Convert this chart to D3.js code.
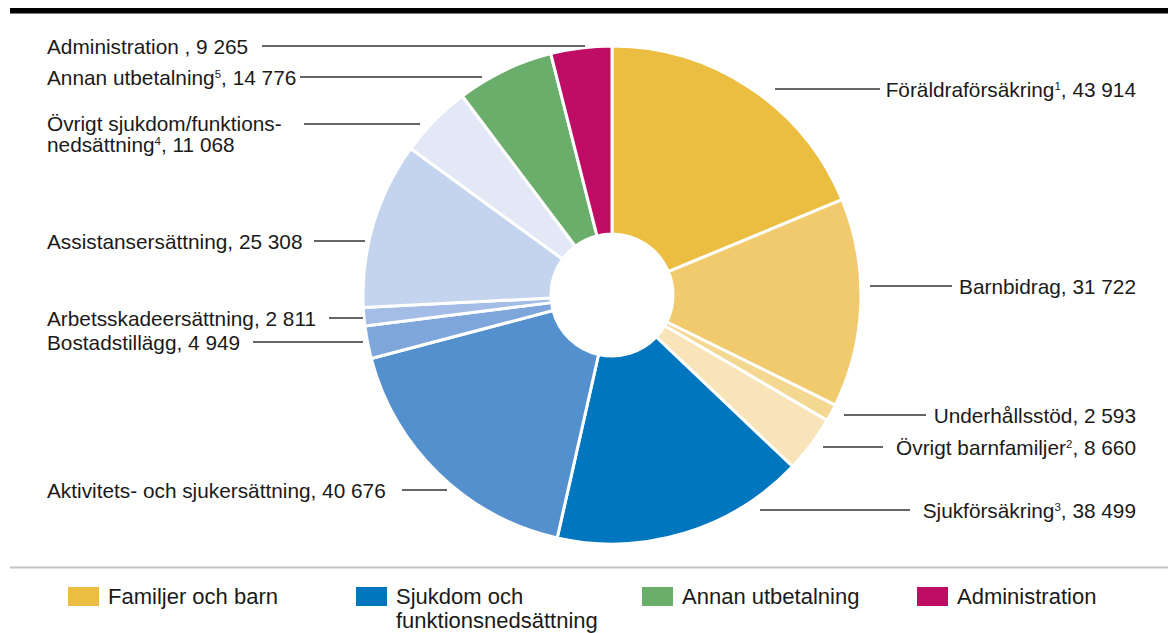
<!DOCTYPE html>
<html><head><meta charset="utf-8">
<script src="https://cdn.jsdelivr.net/npm/d3@7"></script>
<style>
html,body{margin:0;padding:0;background:#fff;}
svg{display:block;font-family:"Liberation Sans",Arial,Helvetica,sans-serif;}
</style></head>
<body>
<svg id="chart" width="1168" height="633"></svg>
<script>
// ---- data ----
const categories = ["Föräldraförsäkring","Barnbidrag","Underhållsstöd","Övrigt barnfamiljer","Sjukförsäkring","Aktivitets- och sjukersättning","Bostadstillägg","Arbetsskadeersättning","Assistansersättning","Övrigt sjukdom/funktionsnedsättning","Annan utbetalning","Administration "];
const footnotes = ["1","","","2","3","","","","","4","5",""];
const values = [43914,31722,2593,8660,38499,40676,4949,2811,25308,11068,14776,9265];
const groups = ["Familjer och barn","Familjer och barn","Familjer och barn","Familjer och barn","Sjukdom och funktionsnedsättning","Sjukdom och funktionsnedsättning","Sjukdom och funktionsnedsättning","Sjukdom och funktionsnedsättning","Sjukdom och funktionsnedsättning","Sjukdom och funktionsnedsättning","Annan utbetalning","Administration"];
const sliceColors = ["#EBBE41","#F0CA6C","#F4D791","#F8E4B8","#0076BF","#5590CE","#7FA6DB","#A3BDE6","#C5D4EE","#E2E8F6","#6BAE6B","#BF0D65"];
const legendGroups = ["Familjer och barn","Sjukdom och funktionsnedsättning","Annan utbetalning","Administration"];
const legendLines = [["Familjer och barn"],["Sjukdom och","funktionsnedsättning"],["Annan utbetalning"],["Administration"]];
const legendColors = ["#EBBE41","#0076BF","#6BAE6B","#BF0D65"];

// ---- layout (label placement) ----
const labelLayout = [
  {side:"right", y:89,  x1:775, x2:880},
  {side:"right", y:286, x1:870, x2:952},
  {side:"right", y:415, x1:844, x2:926},
  {side:"right", y:447, x1:823, x2:883},
  {side:"right", y:510, x1:760, x2:910},
  {side:"left",  y:490, x1:402, x2:447},
  {side:"left",  y:342, x1:253, x2:363},
  {side:"left",  y:318, x1:329, x2:363},
  {side:"left",  y:241, x1:314, x2:365},
  {side:"left",  y:124, x1:304, x2:420, lines:["Övrigt sjukdom/funktions-","nedsättning"]},
  {side:"left",  y:77,  x1:300, x2:482},
  {side:"left",  y:46,  x1:262, x2:585}
];

const svg = d3.select("#chart");
const W = 1168;
const cx = 612, cy = 295, R = 249, r0 = 61;
const fontSize = 20.8;

// top bar
svg.append("rect").attr("x",10).attr("y",8).attr("width",W-10).attr("height",5.5).attr("fill","#000");

const locale = d3.formatLocale({decimal:",", thousands:"\u00a0", grouping:[3], currency:["","kr"]});
const fmt = locale.format(",d");

const pie = d3.pie().sort(null).value(d=>d)(values);
const arc = d3.arc().innerRadius(r0).outerRadius(R);
const color = d3.scaleOrdinal().domain(categories).range(sliceColors);

const g = svg.append("g").attr("transform",`translate(${cx},${cy})`);
g.selectAll("path").data(pie).join("path")
  .attr("d",arc)
  .attr("fill",(d,i)=>color(categories[i]))
  .attr("stroke","#fff").attr("stroke-width",3).attr("stroke-linejoin","round");

// labels
const lab = svg.append("g").attr("font-size",fontSize).attr("fill","#1a1a1a");
function addTail(t,i){
  if (footnotes[i]) t.append("tspan").attr("font-size",11.5).attr("dy",-7).text(footnotes[i]);
  t.append("tspan").attr("dy",footnotes[i]?7:0).text(", " + fmt(values[i]));
}
labelLayout.forEach((L,i)=>{
  lab.append("line").attr("x1",L.x1).attr("x2",L.x2).attr("y1",L.y).attr("y2",L.y)
    .attr("stroke","#333").attr("stroke-width",1.5);
  const anchor = L.side==="right" ? "end" : "start";
  const tx = L.side==="right" ? 1136 : 47;
  const base = L.y + 7.5;
  if (L.lines){
    lab.append("text").attr("x",tx).attr("y",base-0.5).attr("text-anchor",anchor).text(L.lines[0]);
    const t = lab.append("text").attr("x",tx).attr("y",base+20.5).attr("text-anchor",anchor);
    t.append("tspan").text(L.lines[1]);
    addTail(t,i);
  } else {
    const t = lab.append("text").attr("x",tx).attr("y",base).attr("text-anchor",anchor);
    t.append("tspan").text(categories[i]);
    addTail(t,i);
  }
});

// legend
svg.append("line").attr("x1",10).attr("x2",W).attr("y1",567.5).attr("y2",567.5)
  .attr("stroke","#c4c4c4").attr("stroke-width",2);
const legendX = [68,356,642,917];
const lg = svg.append("g").attr("font-size",22).attr("fill","#1a1a1a");
legendGroups.forEach((name,i)=>{
  const x = legendX[i];
  lg.append("rect").attr("x",x).attr("y",587).attr("width",31).attr("height",19).attr("fill",legendColors[i]);
  legendLines[i].forEach((ln,j)=>{
    lg.append("text").attr("x",x+40).attr("y",604+j*23.5).text(ln);
  });
});
</script>
</body></html>
